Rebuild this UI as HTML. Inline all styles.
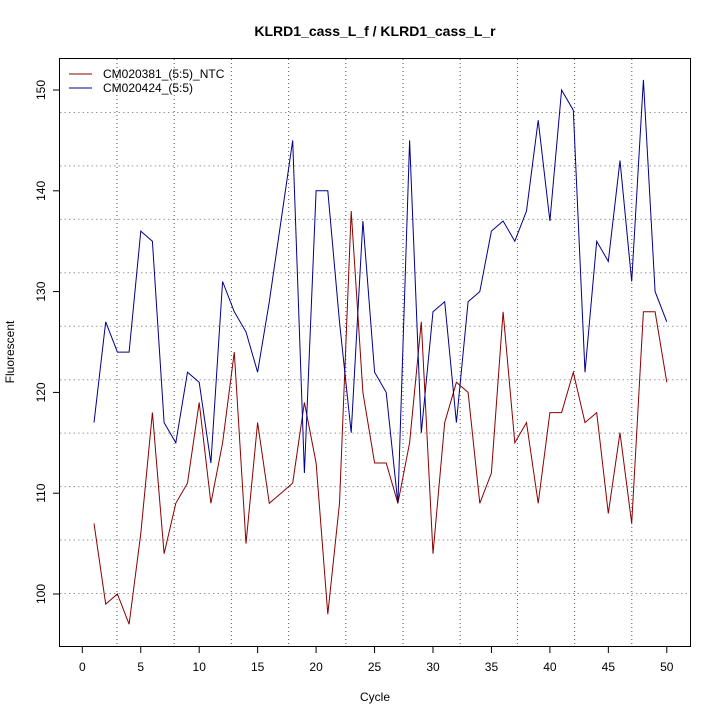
<!DOCTYPE html>
<html><head><meta charset="utf-8"><style>body{margin:0;background:#fff}</style></head>
<body>
<svg id="s" width="720" height="720" xmlns="http://www.w3.org/2000/svg" font-family="Liberation Sans, sans-serif">
<rect width="720" height="720" fill="#fff"/>
<text x="375" y="36" text-anchor="middle" font-weight="bold" font-size="14">KLRD1_cass_L_f / KLRD1_cass_L_r</text>
<g id="grid" stroke="#999" stroke-dasharray="1.5,3" stroke-width="1"></g>
<g id="vgrid" stroke="#555" stroke-dasharray="1,3" stroke-width="1"></g>
<rect x="59.5" y="58.5" width="631" height="588" fill="none" stroke="#000"/>
<g id="ax" stroke="#000"></g>
<g id="lbl" font-size="12" text-anchor="middle"></g>
<text x="375" y="701" text-anchor="middle" font-size="12">Cycle</text>
<text transform="translate(14,352) rotate(-90)" text-anchor="middle" font-size="12">Fluorescent</text>
<polyline id="red" fill="none" stroke="#8b0000" stroke-width="1"/>
<polyline id="blue" fill="none" stroke="#00008b" stroke-width="1"/>
<line x1="69" y1="74" x2="92" y2="74" stroke="#8b0000"/>
<line x1="69" y1="88" x2="92" y2="88" stroke="#00008b"/>
<text x="103" y="78" font-size="12">CM020381_(5:5)_NTC</text>
<text x="103" y="92" font-size="12">CM020424_(5:5)</text>
</svg>
<script>
const X=c=>82.3+11.69*c, Y=v=>594-(v-100)*10.08;
const B=[117,127,124,124,136,135,117,115,122,121,113,131,128,126,122,129,137,145,112,140,140,127,116,137,122,120,109,145,116,128,129,117,129,130,136,137,135,138,147,137,150,148,122,135,133,143,131,151,130,127];
const R=[107,99,100,97,106,118,104,109,111,119,109,115,124,105,117,109,110,111,119,113,98,109,138,120,113,113,109,115,127,104,117,121,120,109,112,128,115,117,109,118,118,122,117,118,108,116,107,128,128,121];
const p=a=>a.map((v,i)=>X(i+1).toFixed(1)+','+Y(v).toFixed(1)).join(' ');
document.getElementById('red').setAttribute('points',p(R));
document.getElementById('blue').setAttribute('points',p(B));
const ns='http://www.w3.org/2000/svg';
function el(g,t,a,txt){const e=document.createElementNS(ns,t);for(const k in a)e.setAttribute(k,a[k]);if(txt)e.textContent=txt;document.getElementById(g).appendChild(e);}
for(let i=0;i<10;i++){const y=593.5-i*53.45;el('grid','line',{x1:60,x2:690,y1:y,y2:y});}
for(let i=0;i<10;i++){const x=117+i*57.2;el('vgrid','line',{x1:x,x2:x,y1:59,y2:646});}
for(let c=0;c<=50;c+=5){const x=X(c);el('ax','line',{x1:x,x2:x,y1:646,y2:653});el('lbl','text',{x:x,y:671},String(c));}
for(let v=100;v<=150;v+=10){const y=Y(v);el('ax','line',{x1:53,x2:59,y1:y,y2:y});el('lbl','text',{x:0,y:0,transform:`translate(45,${y}) rotate(-90)`},String(v));}
</script>
</body></html>
